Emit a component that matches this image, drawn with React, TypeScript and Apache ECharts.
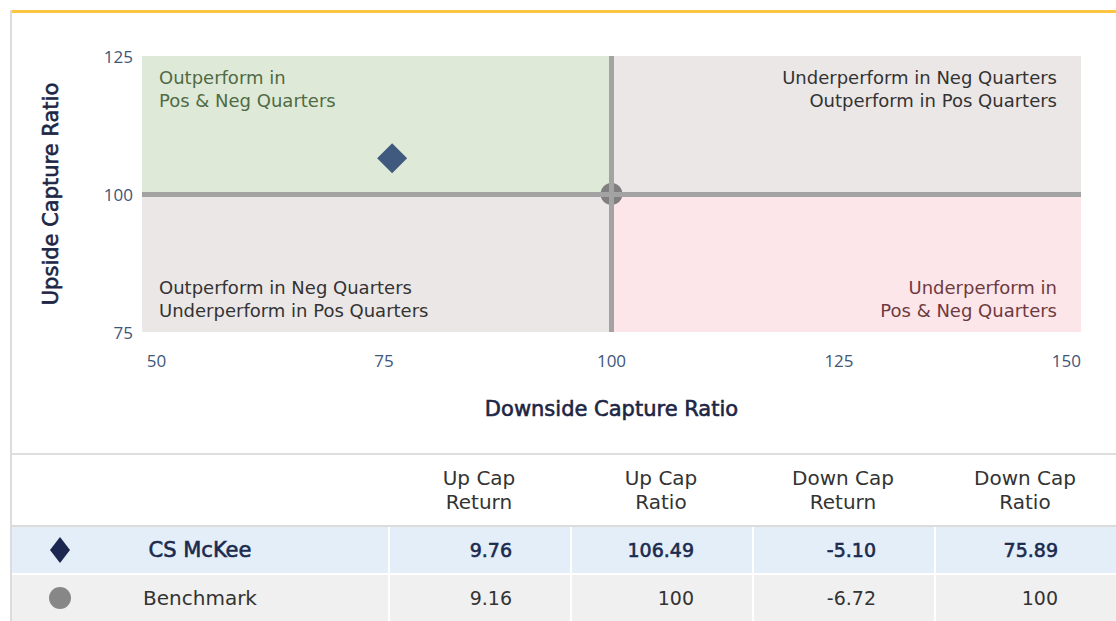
import React, { useEffect, useRef } from "react";
import * as echarts from "echarts";

const FONT = "'DejaVu Sans', sans-serif";
const TICK_FONT = "'Open Sans', sans-serif";

// Axis setup
const xTicks = [50, 75, 100, 125, 150];
const yTicks = [75, 100, 125];
const xRange = [48.4, 151.6];
const yRange = [75, 125];
const benchmarkLevel = 100;
const xAxisTitle = "Downside Capture Ratio";
const yAxisTitle = "Upside Capture Ratio";

// Data
const funds = ["CS McKee", "Benchmark"];
const upCapReturn = [9.76, 9.16];
const upCapRatio = [106.49, 100];
const downCapReturn = [-5.1, -6.72];
const downCapRatio = [75.89, 100];
const fundSymbols = ["diamond", "circle"];
const fundSymbolSizes = [30, 22];
const fundColors = ["#3f5a7e", "#7f7f7f"];
const tableIconColors = ["#1b2651", "#878787"];

const columnHeaders = ["Up Cap\nReturn", "Up Cap\nRatio", "Down Cap\nReturn", "Down Cap\nRatio"];

const quadrantLabels = [
  "Outperform in\nPos & Neg Quarters",
  "Underperform in Neg Quarters\nOutperform in Pos Quarters",
  "Outperform in Neg Quarters\nUnderperform in Pos Quarters",
  "Underperform in\nPos & Neg Quarters",
];
const quadrantFills = ["#dfe9d8", "#ebe7e6", "#ebe7e6", "#fce6e9"];
const quadrantTextColors = ["#4f6b43", "#333333", "#333333", "#6e3a40"];

const fmt = (v: number) => (Number.isInteger(v) ? String(v) : v.toFixed(2));

function Chart() {
  const ref = useRef<HTMLDivElement>(null);
  useEffect(() => {
    if (!ref.current) return;
    const chart = echarts.init(ref.current, undefined, { renderer: "svg" });
    const labelBase = {
      show: true,
      fontFamily: FONT,
      fontSize: 18,
      lineHeight: 23,
      distance: 0,
    };
    const quadrant = (
      i: number,
      from: [number, number],
      to: [number, number],
      position: string
    ) => [
      {
        name: quadrantLabels[i],
        coord: from,
        itemStyle: { color: quadrantFills[i] },
        label: {
          ...labelBase,
          position,
          color: quadrantTextColors[i],
          padding: [10, 24, 10, 17],
        },
      },
      { coord: to },
    ];
    const titleStyle = {
      fontFamily: FONT,
      fontSize: 21,
      fontWeight: "normal",
      color: "#1d2645",
      textBorderColor: "#1d2645",
      textBorderWidth: 0.6,
    };
    chart.setOption({
      animation: false,
      grid: { left: 142, right: 35, top: 56, bottom: 123 },
      xAxis: {
        type: "value",
        min: xRange[0],
        max: xRange[1],
        name: xAxisTitle,
        nameLocation: "middle",
        nameGap: 66,
        nameTextStyle: titleStyle,
        axisLine: { show: false },
        axisTick: { show: false },
        splitLine: { show: false },
        axisLabel: {
          customValues: xTicks,
          margin: 20,
          fontFamily: TICK_FONT,
          fontSize: 17,
          color: "#3e5679",
        },
      },
      yAxis: {
        type: "value",
        min: yRange[0],
        max: yRange[1],
        name: yAxisTitle,
        nameLocation: "middle",
        nameGap: 81,
        nameTextStyle: titleStyle,
        axisLine: { show: false },
        axisTick: { show: false },
        splitLine: { show: false },
        axisLabel: {
          customValues: yTicks,
          margin: 9,
          fontFamily: TICK_FONT,
          fontSize: 17,
          color: "#3e5679",
        },
      },
      series: [
        {
          type: "scatter",
          data: [],
          silent: true,
          z: 1,
          markArea: {
            silent: true,
            data: [
              quadrant(0, [xRange[0], benchmarkLevel], [benchmarkLevel, yRange[1]], "insideTopLeft"),
              quadrant(1, [benchmarkLevel, benchmarkLevel], [xRange[1], yRange[1]], "insideTopRight"),
              quadrant(2, [xRange[0], yRange[0]], [benchmarkLevel, benchmarkLevel], "insideBottomLeft"),
              quadrant(3, [benchmarkLevel, yRange[0]], [xRange[1], benchmarkLevel], "insideBottomRight"),
            ],
          },
          markLine: {
            silent: true,
            symbol: "none",
            label: { show: false },
            lineStyle: { color: "#a3a3a3", width: 5, type: "solid" },
            data: [{ xAxis: benchmarkLevel }, { yAxis: benchmarkLevel }],
          },
        },
        ...funds.map((f, i) => ({
          type: "scatter",
          name: f,
          z: 3,
          symbol: fundSymbols[i],
          symbolSize: fundSymbolSizes[i],
          itemStyle: { color: fundColors[i], opacity: 1 },
          data: [[downCapRatio[i], upCapRatio[i]]],
        })),
      ],
    });
    return () => chart.dispose();
  }, []);
  return <div ref={ref} style={{ position: "absolute", left: 0, top: 0, width: 1116, height: 455 }} />;
}

const colLeft = (i: number) => 388 + 182 * i;

function Icon({ kind, color }: { kind: string; color: string }) {
  if (kind === "diamond") {
    return (
      <svg width="24" height="28" viewBox="0 0 24 28">
        <polygon points="12,1 22,14 12,27 2,14" fill={color} />
      </svg>
    );
  }
  return (
    <svg width="24" height="24" viewBox="0 0 24 24">
      <circle cx="12" cy="12" r="11" fill={color} />
    </svg>
  );
}

export default function App() {
  const rows = funds.map((f, i) => [upCapReturn[i], upCapRatio[i], downCapReturn[i], downCapRatio[i]]);
  const rowTops = [527, 575];
  const rowBgs = ["#e3eef8", "#f0f0f0"];
  const emph = (r: number) =>
    r === 0
      ? { color: "#1c2a4f", WebkitTextStroke: "0.6px #1c2a4f" }
      : { color: "#333333" };
  return (
    <div
      style={{
        position: "fixed",
        left: 0,
        top: 0,
        width: 1116,
        height: 621,
        background: "#ffffff",
        overflow: "hidden",
        fontFamily: FONT,
      }}
    >
      <div style={{ position: "absolute", left: 12, top: 10, width: 1104, height: 3, background: "#fbc441" }} />
      <div style={{ position: "absolute", left: 10, top: 10, width: 2, height: 611, background: "#dcdcdc" }} />
      <Chart />
      <div style={{ position: "absolute", left: 12, top: 453, width: 1104, height: 2, background: "#dedede" }} />
      {columnHeaders.map((h, i) => (
        <div
          key={h}
          style={{
            position: "absolute",
            left: colLeft(i),
            top: 455,
            width: 182,
            height: 70,
            display: "flex",
            alignItems: "center",
            justifyContent: "center",
            textAlign: "center",
            whiteSpace: "pre-line",
            fontSize: 20,
            lineHeight: "24px",
            color: "#333333",
          }}
        >
          {h}
        </div>
      ))}
      <div style={{ position: "absolute", left: 12, top: 525, width: 1104, height: 2, background: "#dcdcdc" }} />
      {rows.map((vals, r) => (
        <React.Fragment key={funds[r]}>
          <div
            style={{
              position: "absolute",
              left: 12,
              top: rowTops[r],
              width: 1104,
              height: 46,
              background: rowBgs[r],
            }}
          />
          <div
            style={{
              position: "absolute",
              left: 48,
              top: rowTops[r],
              width: 24,
              height: 46,
              display: "flex",
              alignItems: "center",
              justifyContent: "center",
            }}
          >
            <Icon kind={fundSymbols[r]} color={tableIconColors[r]} />
          </div>
          <div
            style={{
              position: "absolute",
              left: 100,
              top: rowTops[r],
              width: 200,
              height: 46,
              lineHeight: "46px",
              textAlign: "center",
              fontSize: r === 0 ? 21 : 20,
              ...emph(r),
            }}
          >
            {funds[r]}
          </div>
          {vals.map((v, c) => (
            <div
              key={c}
              style={{
                position: "absolute",
                left: colLeft(c),
                top: rowTops[r],
                width: 182 - 58,
                height: 46,
                lineHeight: "46px",
                textAlign: "right",
                fontSize: 19,
                ...emph(r),
              }}
            >
              {fmt(v)}
            </div>
          ))}
        </React.Fragment>
      ))}
      {[0, 1, 2, 3].map((c) => (
        <div
          key={"sep" + c}
          style={{ position: "absolute", left: colLeft(c), top: 527, width: 2, height: 94, background: "#ffffff" }}
        />
      ))}
      <div style={{ position: "absolute", left: 12, top: 573, width: 1104, height: 2, background: "#ffffff" }} />
    </div>
  );
}
